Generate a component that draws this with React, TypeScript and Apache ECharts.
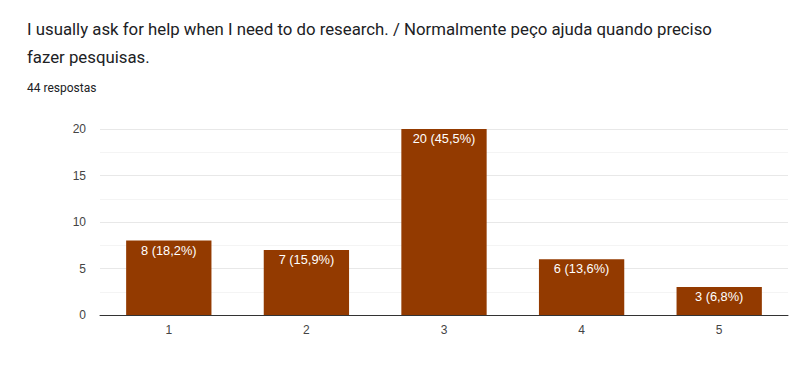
import React, { useEffect, useRef } from "react";
import * as echarts from "echarts";

const titleLines = [
  "I usually ask for help when I need to do research. / Normalmente peço ajuda quando preciso",
  "fazer pesquisas.",
];
const subtitle = "44 respostas";
const categories = ["1", "2", "3", "4", "5"];
const counts = [8, 7, 20, 6, 3];
const percents = ["18,2%", "15,9%", "45,5%", "13,6%", "6,8%"];

export default function App() {
  const ref = useRef<HTMLDivElement>(null);
  useEffect(() => {
    document.body.style.margin = "0";
    const chart = echarts.init(ref.current!, null, { renderer: "svg" });
    chart.setOption({
      animation: false,
      backgroundColor: "#fff",
      title: [
        {
          text: titleLines.join("\n"),
          left: 22,
          top: 10,
          textStyle: {
            fontFamily: "Roboto",
            fontSize: 16.8,
            fontWeight: "normal",
            color: "#202124",
            lineHeight: 28,
          },
        },
        {
          text: subtitle,
          left: 22,
          top: 77,
          textStyle: {
            fontFamily: "Roboto",
            fontSize: 12,
            fontWeight: "normal",
            color: "#202124",
          },
        },
      ],
      grid: { left: 100, right: 12, top: 129, bottom: 77, containLabel: false },
      xAxis: {
        type: "category",
        data: categories,
        axisLine: { lineStyle: { color: "#333", width: 1 } },
        axisTick: { show: false },
        axisLabel: { color: "#444", fontSize: 12, fontFamily: "Arial", margin: 9 },
      },
      yAxis: {
        type: "value",
        min: 0,
        max: 20,
        interval: 5,
        axisLine: { show: false },
        axisTick: { show: false },
        axisLabel: { color: "#444", fontSize: 12, fontFamily: "Arial", margin: 14 },
        splitLine: { lineStyle: { color: "#e8e8e8" } },
        minorTick: { show: false, splitNumber: 2 },
        minorSplitLine: { show: true, lineStyle: { color: "#f4f4f4" } },
      },
      series: [
        {
          type: "bar",
          data: counts,
          barWidth: "62%",
          itemStyle: { color: "#933a00" },
          label: {
            show: true,
            position: "insideTop",
            distance: 3,
            color: "#fff",
            fontSize: 12.8,
            fontFamily: "Arial",
            formatter: (p: any) => `${p.value} (${percents[p.dataIndex]})`,
          },
        },
      ],
    });
    return () => chart.dispose();
  }, []);
  return (
    <div
      ref={ref}
      style={{
        position: "fixed",
        left: 0,
        top: 0,
        width: 800,
        height: 392,
        boxSizing: "border-box",
      }}
    />
  );
}
